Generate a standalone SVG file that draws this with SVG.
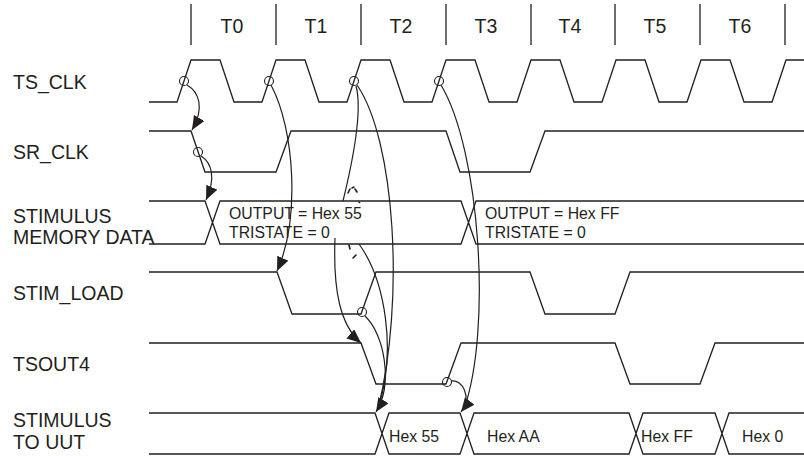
<svg xmlns="http://www.w3.org/2000/svg" width="804" height="456" viewBox="0 0 804 456">
<style>
.lbl{font-family:"Liberation Sans",Arial,sans-serif;font-size:19.5px;fill:#231f20}
.in{font-family:"Liberation Sans",Arial,sans-serif;font-size:15.8px;fill:#231f20}
.w{fill:none;stroke:#231f20;stroke-width:1.3;stroke-linejoin:miter}
.c{fill:none;stroke:#231f20;stroke-width:1.2}
.o{fill:none;stroke:#231f20;stroke-width:1.1}
.hop{fill:none;stroke:#231f20;stroke-width:1.6;stroke-linecap:round}
</style>
<defs>
<marker id="ah" markerUnits="userSpaceOnUse" markerWidth="16" markerHeight="14" refX="14" refY="6" orient="auto">
<path d="M0,0 L14,6 L0,12 z" fill="#231f20"/>
</marker>
</defs>
<rect width="804" height="456" fill="#fff"/>
<g id="timeline">
<path class="w" d="M191,4V45M276,4V45M361,4V45M446,4V45M531,4V45M615,4V45M700,4V45M785,4V45"/>
<text class="lbl" text-anchor="middle" x="232" y="33">T0</text>
<text class="lbl" text-anchor="middle" x="316" y="33">T1</text>
<text class="lbl" text-anchor="middle" x="401" y="33">T2</text>
<text class="lbl" text-anchor="middle" x="486" y="33">T3</text>
<text class="lbl" text-anchor="middle" x="570" y="33">T4</text>
<text class="lbl" text-anchor="middle" x="655" y="33">T5</text>
<text class="lbl" text-anchor="middle" x="740" y="33">T6</text>
</g>
<g id="ts_clk">
<text class="lbl" x="13" y="89">TS_CLK</text>
<path class="w" d="M149,102H177L191,60H220L234,102H262L276,60H305L319,102H347L361,60H390L404,102H432L446,60H475L489,102H517L531,60H560L574,102H602L616,60H645L659,102H687L701,60H730L744,102H772L786,60H804"/>
</g>
<g id="sr_clk">
<text class="lbl" x="13" y="159">SR_CLK</text>
<path class="w" d="M149,131H191L205,172H276L291,131H446L460,172H530L545,131H804"/>
</g>
<g id="stimulus_memory_data">
<text class="lbl" x="13" y="223">STIMULUS</text>
<text class="lbl" x="13" y="244">MEMORY DATA</text>
<path class="w" d="M149,201H205L220,244H461L476,201H804M149,244H205L220,201H461L476,244H804"/>
<text class="in" x="229" y="219">OUTPUT = Hex 55</text>
<text class="in" x="229" y="238">TRISTATE = 0</text>
<text class="in" x="485" y="219">OUTPUT = Hex FF</text>
<text class="in" x="485" y="238">TRISTATE = 0</text>
</g>
<g id="stim_load">
<text class="lbl" x="13" y="300">STIM_LOAD</text>
<path class="w" d="M149,272H277L292,314H361L376,272H530L545,314H615L630,272H804"/>
</g>
<g id="tsout4">
<text class="lbl" x="13" y="371">TSOUT4</text>
<path class="w" d="M149,343H361L376,384H446L461,343H615L630,384H700L715,343H804"/>
</g>
<g id="stimulus_to_uut">
<text class="lbl" x="13" y="427">STIMULUS</text>
<text class="lbl" x="13" y="449">TO UUT</text>
<path class="w" d="M149,413H375L389,454H460L474,413H629L643,454H715L729,413H804M149,454H375L389,413H460L474,454H629L643,413H715L729,454H804"/>
<text class="in" x="389" y="442">Hex 55</text>
<text class="in" x="487" y="442">Hex AA</text>
<text class="in" x="641" y="442">Hex FF</text>
<text class="in" x="742" y="442">Hex 0</text>
</g>
<g id="connectors">
<circle class="o" cx="184" cy="81" r="4.5"/>
<circle class="o" cx="269" cy="81" r="4.5"/>
<circle class="o" cx="354" cy="81" r="4.5"/>
<circle class="o" cx="439" cy="81" r="4.5"/>
<circle class="o" cx="198" cy="152" r="4.5"/>
<circle class="o" cx="362" cy="312" r="4.5"/>
<circle class="o" cx="447" cy="382" r="4.5"/>
<path class="c" marker-end="url(#ah)" d="M187,85C199,92 205,108 192,130"/>
<path class="c" marker-end="url(#ah)" d="M201,156C212,163 216,178 206,200"/>
<path class="c" marker-end="url(#ah)" d="M271,85C295,130 300,220 277,271"/>
<path class="c" d="M356,86Q364,115 343,201"/>
<path class="c" marker-end="url(#ah)" d="M335,238C333,290 340,325 361,343"/>
<path class="c" d="M359,244C385,280 397,350 378,409"/>
<path class="c" d="M357,85C395,140 405,300 378,409"/>
<path class="c" marker-end="url(#ah)" d="M365,316C385,335 393,385 376,412"/>
<path class="c" d="M441,85C480,150 492,330 464,409"/>
<path class="c" marker-end="url(#ah)" d="M451,381C463,379 472,398 461,412"/>
<path class="hop" d="M348,193L350,189M352,188L354,187M355,189L357,192M359,202L359.5,202.5M349,245L350,249M353,258L356,255"/>
</g>
</svg>
